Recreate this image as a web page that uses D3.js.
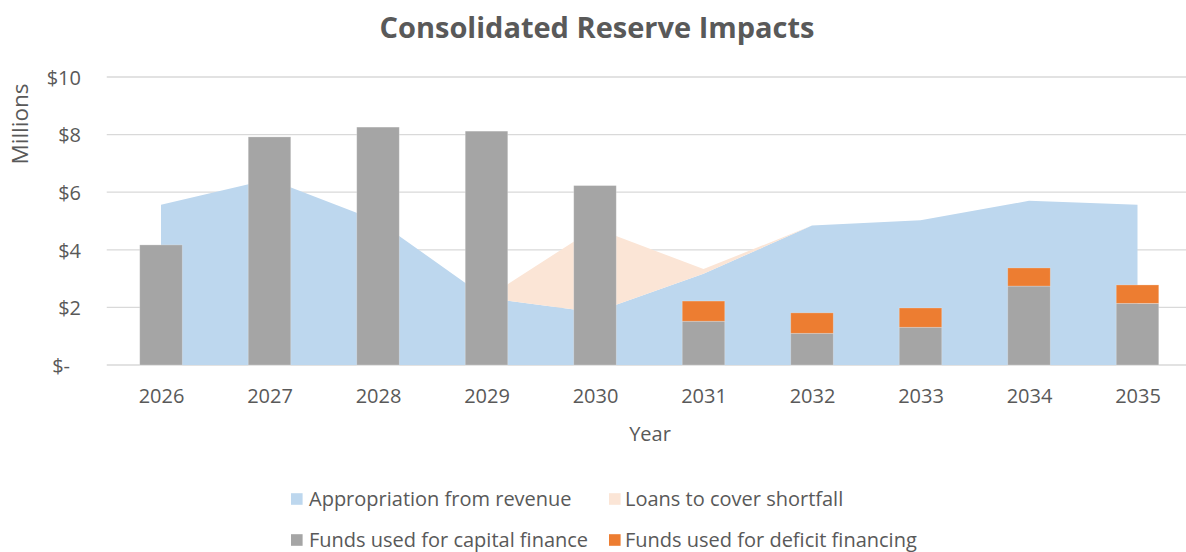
<!DOCTYPE html>
<html lang="en">
<head>
<meta charset="UTF-8">
<title>Consolidated Reserve Impacts</title>
<script src="https://cdn.jsdelivr.net/npm/d3@7"></script>
<style>
  body { margin: 0; background: #fff; }
  svg { display: block; font-family: "Open Sans", sans-serif; }
  .tick text { fill: #595959; font-size: 20px; }
</style>
</head>
<body>
<svg id="chart" width="1186" height="552"></svg>
<script>
// values in millions
const years = [2026, 2027, 2028, 2029, 2030, 2031, 2032, 2033, 2034, 2035];
const appropriation = [5.56, 6.45, 5.0, 2.33, 1.83, 3.17, 4.84, 5.03, 5.7, 5.56];
const loans = [0, 0, 0, 0, 2.93, 0.16, 0, 0, 0, 0];
const capitalFinance = [4.17, 7.92, 8.26, 8.12, 6.23, 1.52, 1.1, 1.31, 2.74, 2.14];
const deficitFinancing = [0, 0, 0, 0, 0, 0.7, 0.71, 0.67, 0.63, 0.64];
const yTicks = [0, 2, 4, 6, 8, 10];

const areaKeys = ["Appropriation from revenue", "Loans to cover shortfall"];
const barKeys = ["Funds used for capital finance", "Funds used for deficit financing"];

const colors = {
    "Appropriation from revenue": "#bdd7ee",
    "Loans to cover shortfall": "#fbe5d6",
    "Funds used for capital finance": "#a5a5a5",
    "Funds used for deficit financing": "#ed7d31"
};

const rows = years.map((yr, i) => ({
    year: yr,
    "Appropriation from revenue": appropriation[i],
    "Loans to cover shortfall": loans[i],
    "Funds used for capital finance": capitalFinance[i],
    "Funds used for deficit financing": deficitFinancing[i]
}));

const svg = d3.select("#chart");

// scales
let x = d3.scalePoint().domain(years).range([161, 1137.5]);
let y = d3.scaleLinear().domain([0, 10]).range([365, 77]);
const step = x.step();
const barW = step * 0.392;

// gridlines
svg.append("g")
    .attr("id", "grid")
    .selectAll("line")
    .data(yTicks)
    .enter()
    .append("line")
    .attr("x1", x(years[0]) - step / 2)
    .attr("x2", x(years[years.length - 1]) + step / 2)
    .attr("y1", d => y(d))
    .attr("y2", d => y(d))
    .attr("stroke", "#d9d9d9")
    .attr("stroke-width", 1.3);

// stacked areas
const areaStack = d3.stack().keys(areaKeys)(rows);
const area = d3.area()
    .x(d => x(d.data.year))
    .y0(d => y(d[0]))
    .y1(d => y(d[1]));

svg.append("g")
    .attr("id", "areas")
    .selectAll("path")
    .data(areaStack)
    .enter()
    .append("path")
    .attr("d", area)
    .attr("fill", d => colors[d.key]);

// stacked columns
const barStack = d3.stack().keys(barKeys)(rows);
svg.append("g")
    .attr("id", "bars")
    .selectAll("g")
    .data(barStack)
    .enter()
    .append("g")
    .attr("fill", d => colors[d.key])
    .selectAll("rect")
    .data(d => d.filter(v => v[1] - v[0] > 0))
    .enter()
    .append("rect")
    .attr("x", d => x(d.data.year) - barW / 2)
    .attr("width", barW)
    .attr("y", d => y(d[1]))
    .attr("height", d => y(d[0]) - y(d[1]))
    .attr("stroke", "rgba(255,255,255,0.3)")
    .attr("stroke-width", 0.8);

// y axis
const yAxis = svg.append("g")
    .attr("transform", "translate(81,0)")
    .call(d3.axisLeft(y).tickValues(yTicks).tickSize(0).tickPadding(0)
        .tickFormat(d => d === 0 ? "$-" : "$" + d))
    .attr("font-family", null)
    .attr("font-size", null);
yAxis.select(".domain").remove();
yAxis.selectAll(".tick text")
    .attr("dy", "0.36em")
    .attr("x", d => d === 0 ? -11 : 0);

// x axis
const xAxis = svg.append("g")
    .attr("transform", "translate(0,365)")
    .call(d3.axisBottom(x).tickSize(0))
    .attr("font-family", null)
    .attr("font-size", null);
xAxis.select(".domain").remove();
xAxis.selectAll(".tick text")
    .attr("y", 38)
    .attr("dy", 0);

// titles
svg.append("text")
    .attr("x", 597)
    .attr("y", 38)
    .attr("text-anchor", "middle")
    .attr("fill", "#595959")
    .attr("font-size", 29)
    .attr("font-weight", "bold")
    .text("Consolidated Reserve Impacts");

svg.append("text")
    .attr("transform", "translate(28,124) rotate(-90)")
    .attr("text-anchor", "middle")
    .attr("fill", "#595959")
    .attr("font-size", 22.5)
    .text("Millions");

svg.append("text")
    .attr("x", 650)
    .attr("y", 441)
    .attr("text-anchor", "middle")
    .attr("fill", "#595959")
    .attr("font-size", 20)
    .text("Year");

// legend, two rows of two
const legendOrder = [areaKeys[0], areaKeys[1], barKeys[0], barKeys[1]];
const colX = [291, 609];
const rowY = [499, 540];
const legend = svg.append("g")
    .attr("id", "legend")
    .selectAll("g")
    .data(legendOrder)
    .enter()
    .append("g")
    .attr("transform", (d, i) => `translate(${colX[i % 2]},${rowY[Math.floor(i / 2)]})`);

legend.append("rect")
    .attr("x", 0)
    .attr("y", -5.8)
    .attr("width", 11.6)
    .attr("height", 11.6)
    .attr("fill", d => colors[d]);

legend.append("text")
    .attr("x", (d, i) => i % 2 === 0 ? 18 : 16)
    .attr("y", 6.5)
    .attr("fill", "#595959")
    .attr("font-size", 20)
    .text(d => d);
</script>
</body>
</html>
